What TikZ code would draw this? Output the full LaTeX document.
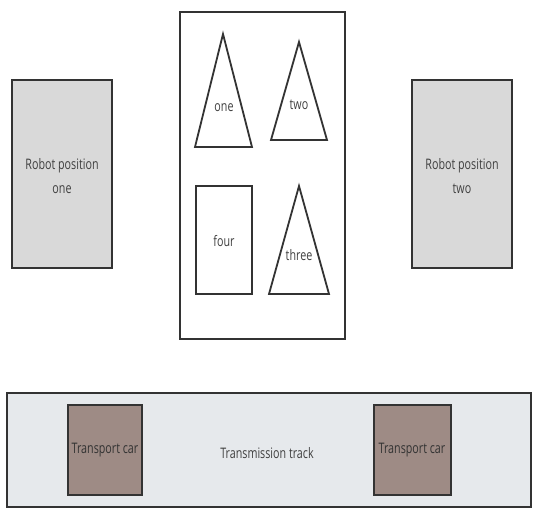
\documentclass[tikz,border=0pt]{standalone}
\usepackage{fontspec}
\setmainfont[FakeStretch=0.74]{Open Sans}
\definecolor{edge}{HTML}{333333}
\definecolor{robotfill}{HTML}{D9D9D9}
\definecolor{trackfill}{HTML}{E6E9EC}
\definecolor{carfill}{HTML}{9E8B85}
\definecolor{txt}{HTML}{404040}
\begin{document}
\begin{tikzpicture}[x=1pt,y=-1pt,
  frame/.style={draw=edge,line width=1.8pt},
  lbl/.style={text=txt,font=\fontsize{14.5}{24}\selectfont,align=center,inner sep=0pt}]
\useasboundingbox (0,0) rectangle (533,509);
% robots
\draw[frame,fill=robotfill] (12,80) rectangle (112,268);
\node[lbl] (r1) at (62,176) {Robot position\\one};
\draw[frame,fill=robotfill] (412,80) rectangle (512,268);
\node[lbl] (r2) at (462,176) {Robot position\\two};
% centre box
\draw[frame,fill=white] (180,12) rectangle (345,339);
\draw[frame] (223,34) -- (252,147) -- (195,147) -- cycle;
\node[lbl] (one) at (224,108) {one};
\draw[frame] (299,42) -- (327,140) -- (271,140) -- cycle;
\node[lbl] (two) at (299,105) {two};
\draw[frame] (196,186) rectangle (252,294);
\node[lbl] (four) at (224,241) {four};
\draw[frame] (299,186) -- (329,294) -- (269,294) -- cycle;
\node[lbl] (three) at (299,255) {three};
% track
\draw[draw=edge,line width=1.2pt,fill=trackfill] (7,393) rectangle (531,507);
\node[lbl] (track) at (267,453) {Transmission track};
\draw[frame,fill=carfill] (68,405) rectangle (142,495);
\node[lbl,text=edge] (c1) at (105,450) {Transport car};
\draw[frame,fill=carfill] (374,405) rectangle (451,495);
\node[lbl,text=edge] (c2) at (412,450) {Transport car};
\end{tikzpicture}
\end{document}
